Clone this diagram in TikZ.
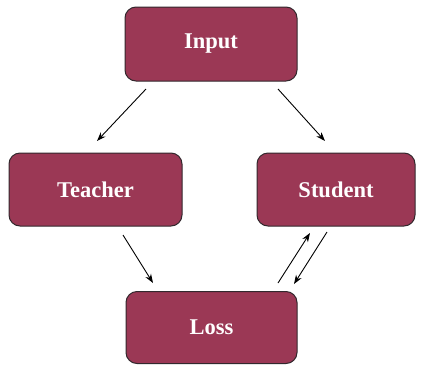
\documentclass[tikz,border=0pt]{standalone}
\usepackage{fontspec}
\setmainfont{Liberation Serif}
\usetikzlibrary{arrows.meta}
\definecolor{boxfill}{RGB}{155,56,85}
\definecolor{boxline}{RGB}{50,40,45}
\begin{document}
\begin{tikzpicture}[x=1pt,y=-1pt,
  box/.style={draw=boxline, line width=1pt, fill=boxfill, rounded corners=11pt,
    text=white, font=\fontsize{22.5}{26}\selectfont\bfseries, inner sep=0pt},
  conn/.style={line width=0.9pt, -{Stealth[length=9pt,width=6.5pt]}}]
\useasboundingbox (0,0) rectangle (426,365);
\node[box, minimum width=172pt, minimum height=74pt] (in) at (211,44) {Input};
\node[box, minimum width=173pt, minimum height=73pt] (te) at (95.5,189.5) {Teacher};
\node[box, minimum width=158pt, minimum height=73pt] (st) at (336,189.5) {Student};
\node[box, minimum width=171pt, minimum height=72pt] (lo) at (211.5,327.5) {Loss};
\coordinate (a1) at (146,89);  \coordinate (a2) at (97,141);
\coordinate (b1) at (278,89);  \coordinate (b2) at (325,141);
\coordinate (c1) at (123,235); \coordinate (c2) at (153,283);
\coordinate (d1) at (278,283); \coordinate (d2) at (310,233);
\coordinate (e1) at (327,232); \coordinate (e2) at (294,284);
\draw[conn] (a1) -- (a2);
\draw[conn] (b1) -- (b2);
\draw[conn] (c1) -- (c2);
\draw[conn] (d1) -- (d2);
\draw[conn] (e1) -- (e2);
\end{tikzpicture}
\end{document}
